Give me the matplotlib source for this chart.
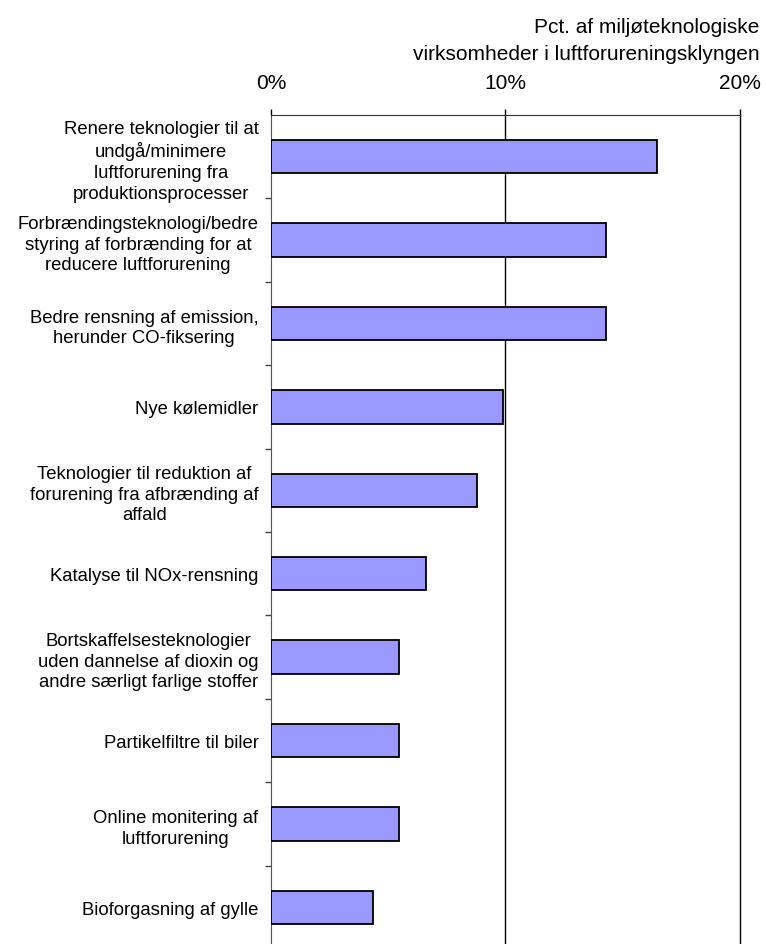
import matplotlib.pyplot as plt
import matplotlib.ticker as ticker

plt.rcParams['font.family'] = ['Liberation Sans', 'DejaVu Sans']

categories = [
    "Renere teknologier til at\nundgå/minimere\nluftforurening fra\nproduktionsprocesser",
    "Forbrændingsteknologi/bedre\nstyring af forbrænding for at\nreducere luftforurening",
    "Bedre rensning af emission,\nherunder CO-fiksering",
    "Nye kølemidler",
    "Teknologier til reduktion af\nforurening fra afbrænding af\naffald",
    "Katalyse til NOx-rensning",
    "Bortskaffelsesteknologier\nuden dannelse af dioxin og\nandre særligt farlige stoffer",
    "Partikelfiltre til biler",
    "Online monitering af\nluftforurening",
    "Bioforgasning af gylle",
]
values = [16.45, 14.27, 14.27, 9.9, 8.8, 6.6, 5.45, 5.45, 5.45, 4.35]
xticks = [0, 10, 20]
xtick_labels = ["0%", "10%", "20%"]
title = "Pct. af miljøteknologiske\nvirksomheder i luftforureningsklyngen"


def main():
    fig = plt.figure(figsize=(7.66, 9.45), dpi=100)
    ax = fig.add_axes([0.3538, -0.0053, 0.6122, 0.8825])

    pos = list(range(len(categories)))
    ax.barh(pos, values, height=0.4, color="#9999FF",
            edgecolor="black", linewidth=1.3, zorder=3)

    ax.set_xlim(0, 20)
    ax.set_ylim(len(categories) - 0.5, -0.5)

    # grid lines only at 10% and 20% (20% sits on the edge, so no clipping)
    for g in xticks[1:]:
        ax.axvline(g, color="black", linewidth=1.0, zorder=1, clip_on=False)

    ax.xaxis.tick_top()
    ax.set_xticks(xticks)
    ax.set_xticklabels(xtick_labels, fontsize=15)
    ax.tick_params(axis="x", direction="out", length=4.3, width=1,
                   pad=12, colors="black")

    # ticks between categories, labels at centers
    ax.yaxis.set_major_locator(ticker.FixedLocator(
        [p + 0.5 for p in pos[:-1]]))
    ax.yaxis.set_major_formatter(ticker.NullFormatter())
    ax.yaxis.set_minor_locator(ticker.FixedLocator(pos))
    ax.yaxis.set_minor_formatter(ticker.FixedFormatter(categories))
    ax.tick_params(axis="y", which="major", direction="out",
                   length=4, width=1, color="#444444")
    ax.tick_params(axis="y", which="minor", length=0, pad=9,
                   labelsize=13.3)
    for lbl in ax.get_yticklabels(minor=True):
        lbl.set_multialignment("center")
        lbl.set_linespacing(1.29)

    for side in ["right", "bottom"]:
        ax.spines[side].set_visible(False)
    ax.spines["left"].set_color("#555555")
    ax.spines["top"].set_color("#333333")

    fig.text(0.992, 0.9805, title, ha="right", va="top",
             fontsize=15, linespacing=1.5)

    fig.savefig("out.png", dpi=100)


if __name__ == "__main__":
    main()
